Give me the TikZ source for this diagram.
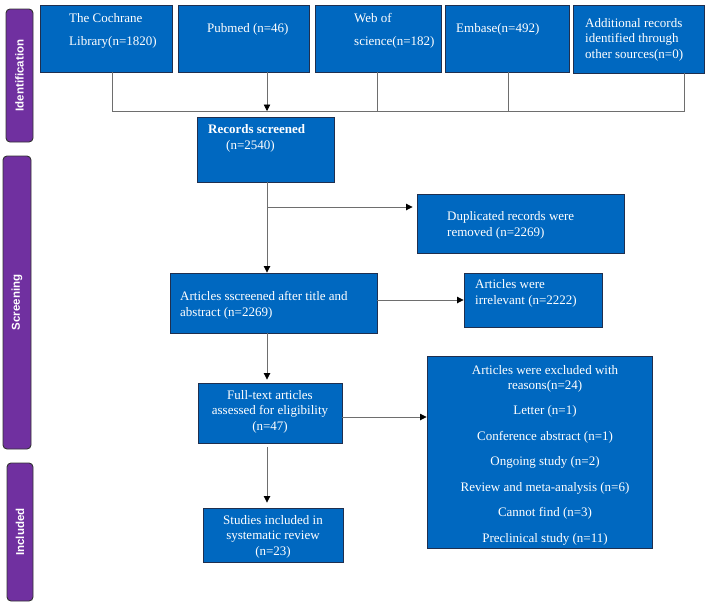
\documentclass[tikz,border=0pt]{standalone}
\usepackage{fontspec}
\setmainfont{Liberation Serif}
\setsansfont{Liberation Sans}
\usetikzlibrary{arrows.meta,positioning,calc}
\definecolor{pblue}{HTML}{0068C0}
\definecolor{pnavy}{HTML}{1F2F4F}
\definecolor{ppurple}{HTML}{7030A0}
\definecolor{pline}{HTML}{6E6E6E}
\tikzset{
  % Blue record box, text placed on its own.
  box/.style  = {rectangle, draw=pnavy, fill=pblue, line width=0.9pt, inner sep=0pt},
  band/.style = {rectangle, rounded corners=4pt, draw=black!80, fill=ppurple, line width=0.9pt,
                 rotate=90, text=white, inner sep=0pt,
                 font=\sffamily\bfseries\fontsize{11.5}{13}\selectfont},
  txt/.style  = {text=white, font=\fontsize{13}{15.5}\selectfont, inner sep=0pt, align=left,
                 anchor=base west},
  ctxt/.style = {txt, align=center, anchor=base},
  arr/.style  = {-{Triangle[length=6.5pt, width=6.5pt, color=black]}, line width=0.8pt, pline},
  lane/.style = {line width=0.8pt, pline},
}

\begin{document}
\begin{tikzpicture}[x=1pt,y=-1pt]
\useasboundingbox (0,0) rectangle (708,605);
% stages
\node[band, minimum width=133, minimum height=27] (idband)  at (19.5,75.5) {Identification};
\node[band, minimum width=293, minimum height=28] (scrband) at (17,302.5)  {Screening};
\node[band, minimum width=138, minimum height=26] (incband) at (20,532)    {Included};
% sources (text nodes sit on their last baseline)
\node[box, minimum width=132, minimum height=67] (coch) at (106,38.5)   {};
\node[box, minimum width=131, minimum height=67] (pub)  at (243.5,38.5) {};
\node[box, minimum width=126, minimum height=67] (web)  at (378,38.5)   {};
\node[box, minimum width=124, minimum height=67] (emb)  at (507,38.5)   {};
\node[box, minimum width=131, minimum height=68] (add)  at (638.5,39)   {};
\node[txt] (cocht) at (69,45)  {The Cochrane\\[7.5pt]Library(n=1820)};
\node[txt] (pubt)  at (207,32) {Pubmed (n=46)};
\node[txt] (webt)  at (354,45) {Web of\\[7.5pt]science(n=182)};
\node[txt] (embt)  at (456,32) {Embase(n=492)};
\node[txt] (addt)  at (585,58) {Additional records\\identified through\\other sources(n=0)};
% screening
\node[box, minimum width=137, minimum height=65] (rec)  at (265.5,149.5) {};
\node[box, minimum width=207, minimum height=59] (dup)  at (520.5,223.5) {};
\node[box, minimum width=207, minimum height=60] (art)  at (273.5,303)   {};
\node[box, minimum width=138, minimum height=54] (irr)  at (533,300)     {};
\node[box, minimum width=144, minimum height=60] (full) at (270,413)     {};
\node[box, minimum width=225, minimum height=192] (excl) at (539.5,452)  {};
\node[box, minimum width=140, minimum height=54] (stud) at (273,535)     {};
\node[txt] (rect)  at (208,149) {\textbf{Records screened}\\\hspace*{18pt}(n=2540)};
\node[txt] (dupt)  at (447,236) {Duplicated records were\\removed (n=2269)};
\node[txt] (artt)  at (180,316) {Articles sscreened after title and\\abstract (n=2269)};
\node[txt] (irrt)  at (475,304) {Articles were\\irrelevant (n=2222)};
\node[ctxt] (fullt) at (270,430) {Full-text articles\\assessed for eligibility\\(n=47)};
\node[ctxt] (studt) at (273,555) {Studies included in\\systematic review\\(n=23)};
\node[ctxt] (exclt) at (545,542) {Articles were excluded with\\[-1pt]reasons(n=24)\\[10pt]
  Letter (n=1)\\[10pt]Conference abstract (n=1)\\[10pt]Ongoing study (n=2)\\[10pt]
  Review and meta-analysis (n=6)\\[10pt]Cannot find (n=3)\\[10pt]Preclinical study (n=11)};
% merge line
\coordinate (m1) at (112,111);
\coordinate (m5) at (684,111);
\coordinate (sp) at (267,0);
\draw[lane] (coch.south -| m1) -- (m1) -- (m5) -- (add.south -| m5);
\draw[lane] (web.south -| 377,0) -- (377,111);
\draw[lane] (emb.south -| 508,0) -- (508,111);
\draw[arr] (pub.south -| sp) -- (m1 -| sp);
% flow
\coordinate (b1) at (267,207);
\draw[arr] (rec.south -| sp) -- (art.north -| sp);
\draw[arr] (b1) -- ([xshift=-4pt]b1 -| dup.west);
\draw[arr] (art.east |- irr.west) -- (irr.west);
\draw[arr] (art.south -| sp) -- ([yshift=3pt]full.north -| sp);
\draw[arr] ([yshift=-4pt]full.east) -- ([yshift=-4pt]full.east -| excl.west);
\draw[arr] ([yshift=-4pt]full.south -| sp) -- ([yshift=5pt]stud.north -| sp);
\end{tikzpicture}
\end{document}
